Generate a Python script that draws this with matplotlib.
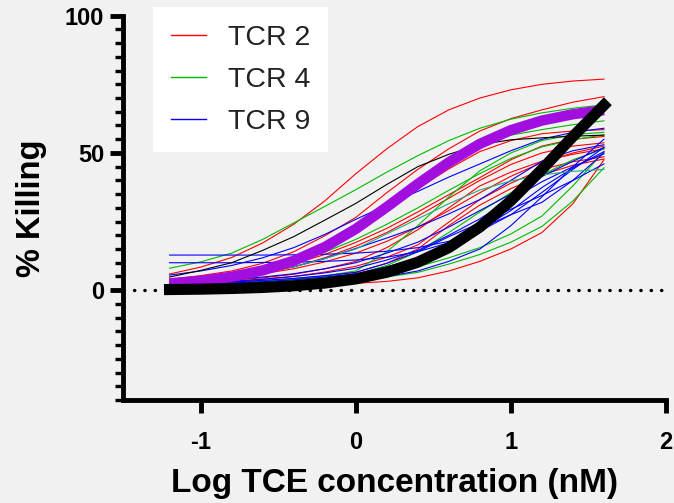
import matplotlib
matplotlib.use("Agg")
import matplotlib.pyplot as plt
from matplotlib.lines import Line2D
from matplotlib.ticker import MultipleLocator, FixedLocator

plt.rcParams['font.family'] = ['Liberation Sans', 'DejaVu Sans']
plt.rcParams['axes.unicode_minus'] = False

# log TCE concentration (nM) at which the fitted curves were read
log_conc = [-1.2, -1.0, -0.8, -0.6, -0.4, -0.2, 0.0, 0.2, 0.4, 0.6, 0.8, 1.0, 1.2, 1.4, 1.6]

# % killing, individual fits
tcr2 = [
    [5.9, 8.4, 11.9, 17.2, 24.0, 32.5, 42.4, 51.5, 59.6, 65.7, 70.0, 73.0, 75.0, 76.2, 76.9],
    [4.0, 5.3, 7.0, 9.8, 14.0, 19.8, 26.5, 35.5, 44.0, 51.5, 58.0, 62.5, 65.7, 68.5, 70.5],
    [3.0, 4.0, 5.5, 7.8, 11.0, 15.8, 22.0, 29.5, 37.0, 44.2, 50.5, 54.5, 57.0, 58.0, 58.5],
    [3.5, 4.3, 5.5, 7.2, 9.5, 13.0, 17.4, 22.5, 28.5, 34.8, 41.0, 47.5, 52.5, 55.0, 56.0],
    [2.8, 3.5, 4.5, 6.2, 8.5, 11.8, 16.0, 21.0, 27.0, 33.5, 40.0, 45.8, 50.0, 52.5, 53.7],
    [3.2, 3.9, 4.8, 6.0, 7.8, 10.3, 13.5, 17.8, 23.0, 29.0, 35.5, 41.5, 46.5, 50.0, 52.5],
    [2.5, 3.0, 3.6, 4.5, 5.8, 7.8, 10.5, 15.5, 22.0, 30.0, 38.0, 43.0, 47.0, 49.5, 51.5],
    [2.2, 2.6, 3.2, 4.0, 5.0, 6.6, 8.7, 12.0, 16.5, 24.8, 33.0, 39.0, 44.0, 46.8, 48.6],
    [1.8, 2.2, 2.8, 3.4, 4.2, 5.2, 6.5, 9.8, 15.0, 23.5, 31.0, 37.0, 42.0, 45.5, 47.8],
    [1.2, 1.3, 1.5, 1.7, 1.9, 2.2, 2.5, 3.2, 4.5, 7.0, 10.5, 15.0, 21.0, 31.5, 47.5],
]
tcr4 = [
    [8.0, 10.3, 13.5, 18.5, 24.5, 30.5, 36.6, 43.0, 49.0, 54.5, 59.0, 62.3, 64.6, 66.3, 67.5],
    [3.5, 4.6, 6.0, 8.3, 11.5, 16.0, 21.0, 30.0, 40.0, 47.5, 53.0, 56.5, 58.5, 60.3, 61.7],
    [3.0, 4.1, 5.5, 7.5, 10.0, 13.8, 18.5, 24.0, 30.0, 36.4, 42.5, 48.0, 52.2, 54.8, 56.6],
    [1.5, 1.9, 2.5, 3.1, 4.0, 5.2, 7.0, 14.0, 23.5, 34.0, 43.5, 50.0, 54.5, 56.7, 57.5],
    [1.5, 1.9, 2.5, 3.1, 3.8, 4.7, 5.8, 9.0, 14.0, 21.0, 28.5, 35.5, 42.0, 47.5, 51.5],
    [1.3, 1.5, 1.8, 2.2, 2.8, 3.5, 4.5, 6.2, 8.5, 11.8, 15.5, 20.5, 27.0, 38.0, 50.5],
    [1.0, 1.1, 1.3, 1.6, 2.0, 2.6, 3.5, 4.8, 6.5, 9.5, 13.0, 17.5, 23.2, 32.5, 44.6],
]
tcr4_alt = [3.0, 3.9, 5.0, 6.5, 8.5, 11.5, 15.0, 20.5, 26.0, 31.5, 36.5, 39.8, 42.0, 43.3, 44.0]
tcr9 = [
    [5.5, 7.0, 9.0, 11.8, 15.5, 20.3, 25.8, 31.0, 36.0, 41.2, 46.0, 50.8, 55.0, 57.5, 59.0],
    [12.8, 12.8, 12.8, 12.8, 12.9, 13.1, 13.5, 14.2, 15.5, 17.8, 21.5, 27.5, 35.6, 44.0, 52.0],
    [10.0, 10.0, 10.0, 10.1, 10.2, 10.5, 11.0, 12.0, 14.0, 17.3, 22.0, 29.0, 37.4, 44.5, 50.5],
    [3.0, 3.9, 5.0, 6.6, 8.5, 11.5, 15.2, 19.0, 23.0, 27.8, 33.0, 40.0, 47.0, 50.8, 53.0],
    [2.5, 3.1, 3.8, 4.8, 6.0, 7.8, 10.0, 13.5, 17.5, 23.0, 29.0, 35.0, 41.4, 47.0, 52.0],
    [2.2, 2.7, 3.2, 4.0, 5.0, 6.3, 8.0, 11.0, 14.5, 20.0, 26.0, 33.0, 39.5, 45.0, 49.7],
    [2.0, 2.5, 3.0, 3.6, 4.3, 5.3, 6.5, 9.8, 14.0, 19.5, 24.5, 29.5, 34.5, 40.0, 46.0],
    [1.8, 2.2, 2.6, 3.1, 3.8, 4.8, 6.0, 8.5, 11.5, 16.5, 22.5, 27.5, 32.0, 40.0, 50.0],
    [1.2, 1.4, 1.6, 1.9, 2.3, 2.8, 3.5, 5.0, 7.0, 10.5, 15.0, 23.5, 34.0, 45.0, 55.0],
]
other = [4.8, 7.2, 10.0, 14.5, 19.5, 25.5, 31.6, 38.5, 45.0, 49.5, 53.0, 54.8, 55.5, 56.1, 56.5]

# summary fits
mean_fit = [2.5, 3.4, 4.9, 7.2, 10.7, 15.7, 22.3, 30.3, 38.7, 46.6, 53.3, 58.3, 61.8, 64.1, 65.6]
ref_fit = [0.24, 0.38, 0.62, 1.0, 1.61, 2.59, 4.1, 6.54, 10.2, 15.5, 23.0, 32.6, 44.0, 56.0, 67.4]

labels = ["TCR 2", "TCR 4", "TCR 9"]
colors = ["#ff0000", "#00bb00", "#0000ff"]
bg = "#f1f1f1"

fig = plt.figure(figsize=(6.74, 5.03), dpi=100, facecolor=bg)
ax = fig.add_axes([123/674, 103/503, 543/674, 384.3/503])
ax.set_facecolor(bg)

for group, c in zip([tcr2, tcr4, tcr9], colors):
    for ys in group:
        ax.plot(log_conc, ys, color=c, lw=0.8, zorder=2)
ax.plot(log_conc, tcr4_alt, color="#1fae7a", lw=0.8, zorder=2)
ax.plot(log_conc, other, color="black", lw=0.8, zorder=2)

ax.plot(log_conc, mean_fit, color="#a30ee0", lw=7.5, solid_capstyle='butt', zorder=3)
ax.plot(log_conc, ref_fit, color="black", lw=8, solid_capstyle='projecting', zorder=4)

ax.axhline(0, xmin=0.02, color="black", lw=2.4, linestyle=(0, (0.1, 3.0)),
           dash_capstyle='round', zorder=1)

ax.set_xlim(-1.5, 2)
ax.set_ylim(-40, 100)
ax.xaxis.set_major_locator(FixedLocator([-1, 0, 1, 2]))
ax.yaxis.set_major_locator(FixedLocator([0, 50, 100]))
ax.yaxis.set_minor_locator(MultipleLocator(5))

for s in ["top", "right"]:
    ax.spines[s].set_visible(False)
for s in ["left", "bottom"]:
    ax.spines[s].set_linewidth(3.5)

ax.tick_params(axis="both", which="major", width=3.5, length=9.5, labelsize=17)
ax.tick_params(axis="x", which="major", pad=13)
ax.tick_params(axis="y", which="major", pad=4)
ax.tick_params(axis="y", which="minor", width=2.4, length=5.5)
for lab in ax.get_xticklabels() + ax.get_yticklabels():
    lab.set_fontweight("bold")

ax.set_xlabel("Log TCE concentration (nM)", fontsize=24, fontweight="bold", labelpad=10)
ax.set_ylabel("% Killing", fontsize=23.5, fontweight="bold", labelpad=13)

handles = [Line2D([], [], color=c, lw=1) for c in colors]
leg = ax.legend(handles, labels, loc="upper left",
                bbox_to_anchor=(153/674, 1 - 7/503), bbox_transform=fig.transFigure,
                borderaxespad=0, fontsize=20.5, frameon=True, fancybox=False,
                facecolor="white", edgecolor="none", framealpha=1,
                handlelength=1.25, handletextpad=0.75, labelspacing=0.56,
                borderpad=0.62, labelcolor="#222222")
leg.set_zorder(5)

fig.savefig("out.png", dpi=100, facecolor=bg)
